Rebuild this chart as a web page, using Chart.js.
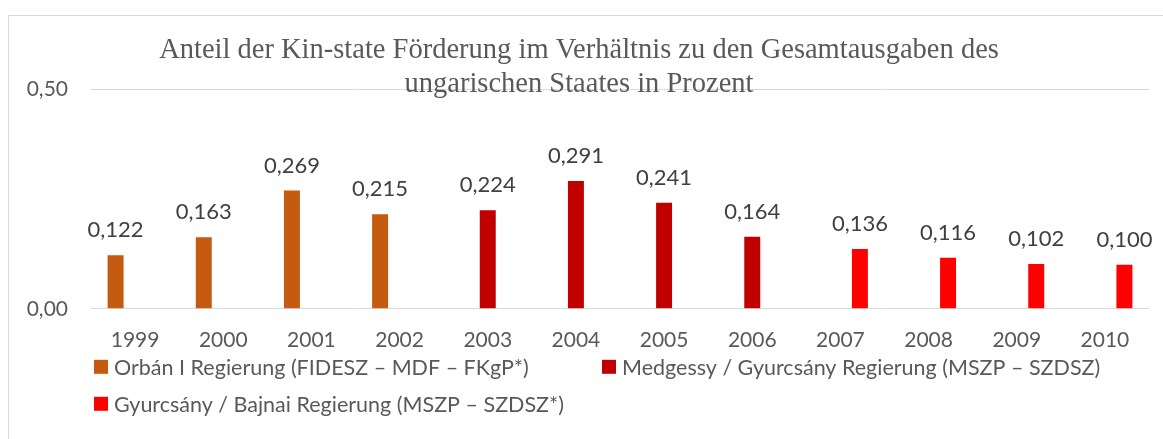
<!DOCTYPE html>
<html><head><meta charset="utf-8">
<script src="https://cdn.jsdelivr.net/npm/chart.js@4"></script>
<style>
html,body{margin:0;padding:0;background:#fff;}
#wrap{position:relative;width:1163px;height:439px;overflow:hidden;}
#frame{position:absolute;left:8px;top:15px;width:1300px;height:600px;border:1px solid #d9d9d9;box-sizing:border-box;}
canvas{position:absolute;left:0;top:0;}
</style></head><body>
<div id="wrap"><div id="frame"></div><canvas id="c" width="1163" height="439"></canvas></div>
<script>
const years = ['1999','2000','2001','2002','2003','2004','2005','2006','2007','2008','2009','2010'];
const orbanValues    = [0.122,0.163,0.269,0.215,null,null,null,null,null,null,null,null];
const medgessyValues = [null,null,null,null,0.224,0.291,0.241,0.164,null,null,null,null];
const bajnaiValues   = [null,null,null,null,null,null,null,null,0.136,0.116,0.102,0.100];
const seriesLabels = [
  'Orbán I Regierung (FIDESZ – MDF – FKgP*)',
  'Medgessy / Gyurcsány Regierung (MSZP – SZDSZ)',
  'Gyurcsány / Bajnai Regierung (MSZP – SZDSZ*)'
];
const seriesColors = ['#C55A11','#C00000','#FF0000'];
const titleLines = ['Anteil der Kin-state Förderung im Verhältnis zu den Gesamtausgaben des','ungarischen Staates in Prozent'];
const yTicks = [0, 0.5];

const SANS = 'Lato';
const fmt = (v, d) => v.toFixed(d).replace('.', ',');

const valueLabels = {
  id: 'valueLabels',
  afterDatasetsDraw(chart) {
    const ctx = chart.ctx;
    ctx.save();
    ctx.font = '22px ' + SANS;
    ctx.fillStyle = '#404040';
    ctx.textAlign = 'center';
    ctx.textBaseline = 'alphabetic';
    chart.data.datasets.forEach((ds, i) => {
      chart.getDatasetMeta(i).data.forEach((bar, j) => {
        const v = ds.data[j];
        if (v == null) return;
        ctx.fillText(fmt(v, 3), bar.x, bar.y - 18);
      });
    });
    ctx.restore();
  }
};

const customLegend = {
  id: 'customLegend',
  afterDraw(chart) {
    const ctx = chart.ctx, ca = chart.chartArea;
    const slots = [[0,0],[1,0],[0,1]];
    ctx.save();
    ctx.font = '21.5px ' + SANS;
    ctx.textBaseline = 'middle';
    ctx.textAlign = 'left';
    chart.data.datasets.forEach((ds, i) => {
      const [col, row] = slots[i];
      const x = ca.left + 3 + col * 508;
      const y = ca.bottom + 58 + row * 37;
      ctx.fillStyle = ds.backgroundColor;
      ctx.fillRect(x, y - 7, 14, 14);
      ctx.fillStyle = '#595959';
      ctx.fillText(ds.label, x + 20, y + 1);
    });
    ctx.restore();
  }
};

const datasets = [orbanValues, medgessyValues, bajnaiValues].map((d, i) => ({
  label: seriesLabels[i],
  data: d,
  backgroundColor: seriesColors[i],
  borderWidth: 0,
  categoryPercentage: 0.663,
  barPercentage: 0.82
}));

new Chart(document.getElementById('c'), {
  type: 'bar',
  data: { labels: years, datasets },
  options: {
    responsive: false,
    animation: false,
    devicePixelRatio: 1,
    layout: { padding: { left: 9, right: 14, top: 0, bottom: 67 } },
    plugins: {
      legend: { display: false },
      tooltip: { enabled: false },
      title: {
        display: true,
        text: titleLines,
        color: '#595959',
        font: { family: 'Liberation Serif', size: 28.5, weight: 'normal', lineHeight: 1.2 },
        padding: { top: 33, bottom: -12.4 }
      }
    },
    scales: {
      x: {
        grid: { display: false, drawTicks: false },
        border: { display: false },
        ticks: { color: '#595959', font: { family: SANS, size: 21 }, padding: 19 }
      },
      y: {
        min: 0, max: 0.5,
        afterFit: s => { s.width = 82; },
        afterBuildTicks: s => { s.ticks = yTicks.map(v => ({ value: v })); },
        grid: { color: '#d9d9d9', lineWidth: 1, drawTicks: false },
        border: { display: false },
        ticks: { color: '#595959', font: { family: SANS, size: 21 }, padding: 23, callback: v => fmt(v, 2) }
      }
    }
  },
  plugins: [valueLabels, customLegend]
});
</script>
</body></html>
